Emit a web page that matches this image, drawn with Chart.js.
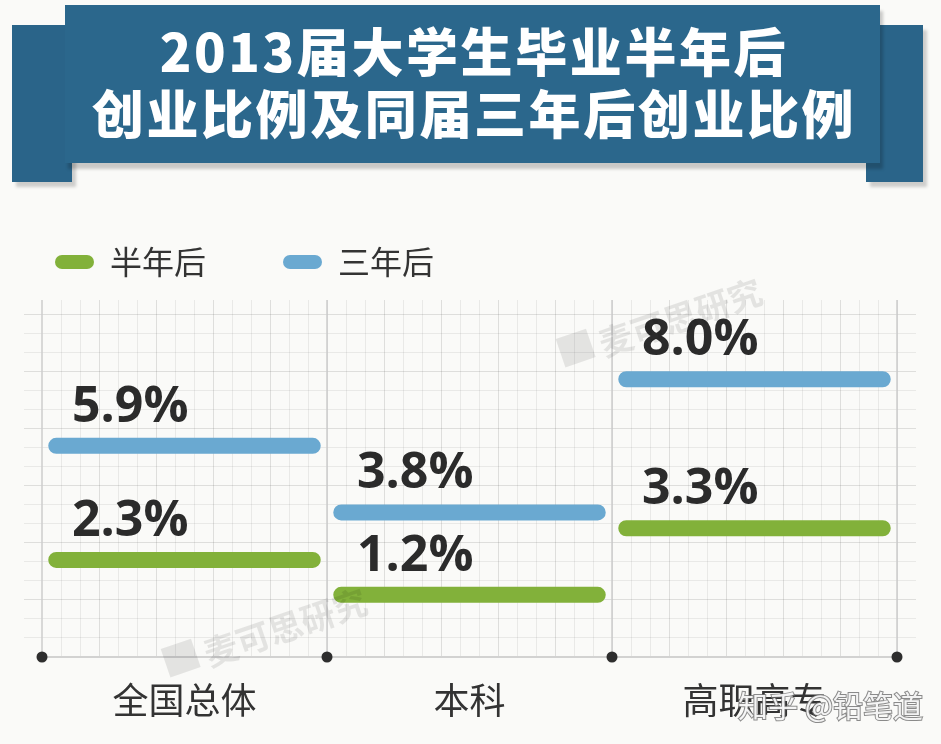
<!DOCTYPE html>
<html>
<head>
<meta charset="utf-8">
<script src="https://cdn.jsdelivr.net/npm/chart.js@4/dist/chart.umd.min.js"></script>
<style>
  html, body { margin: 0; padding: 0; background: #fafaf8; }
  #wrap { position: relative; width: 941px; height: 744px; overflow: hidden; }
  #chart { position: absolute; left: 0; top: 0; }
  .tab { position: absolute; background: #2a6489; box-shadow: 4px 5px 3px rgba(0,0,0,0.18); }
  .banner {
    position: absolute; left: 65px; top: 5px; width: 815px; height: 158px;
    background: #2b678c; box-shadow: 3px 6px 3px rgba(0,0,0,0.2);
    color: #fff; text-align: center;
    font-family: "Noto Sans CJK SC", sans-serif; font-weight: 900;
    font-size: 52px; line-height: 62px; letter-spacing: 2.6px;
    padding: 14px 0 0 3px; box-sizing: border-box;
  }
</style>
</head>
<body>
<div id="wrap">
  <div class="tab" style="left:12px;top:25px;width:60px;height:157px;"></div>
  <div class="tab" style="left:866px;top:25px;width:57px;height:157px;"></div>
  <div class="banner">2013届大学生毕业半年后<br>创业比例及同届三年后创业比例</div>
  <canvas id="chart" width="941" height="744"></canvas>
</div>
<script>
// values (percent)
const categories = ["全国总体", "本科", "高职高专"];
const halfYear = [2.3, 1.2, 3.3];
const threeYear = [5.9, 3.8, 8.0];
const seriesNames = ["半年后", "三年后"];
const seriesColors = ["#82b13a", "#6aa9d1"];

// each category gets one flat segment across its column
function segments(values) {
  const pts = [];
  values.forEach((v, i) => {
    pts.push({ x: i + 0.05, y: v });
    pts.push({ x: i + 0.95, y: v });
    pts.push({ x: i + 0.97, y: null });
  });
  return pts;
}

const paper = {
  id: "paper",
  beforeDatasetsDraw(chart) {
    const ctx = chart.ctx;
    const xs = chart.scales.x;
    const top = 300, bottom = xs.bottom;
    const x0 = xs.getPixelForValue(0), x3 = xs.getPixelForValue(3);
    ctx.save();
    // fine graph paper
    const step = 19;
    let k = 0;
    for (let x = x0 - step; x > 24; x -= step) {
      ctx.strokeStyle = "rgba(0,0,0,0.07)";
      ctx.beginPath(); ctx.moveTo(x + 0.5, top); ctx.lineTo(x + 0.5, bottom); ctx.stroke();
    }
    k = 0;
    for (let x = x0 + step; x < 916; x += step) {
      k++;
      ctx.strokeStyle = k % 3 === 0 ? "rgba(0,0,0,0.11)" : "rgba(0,0,0,0.065)";
      ctx.beginPath(); ctx.moveTo(x + 0.5, top); ctx.lineTo(x + 0.5, bottom); ctx.stroke();
    }
    k = 0;
    for (let y = bottom - step; y > top; y -= step) {
      k++;
      ctx.strokeStyle = k % 3 === 0 ? "rgba(0,0,0,0.11)" : "rgba(0,0,0,0.065)";
      ctx.beginPath(); ctx.moveTo(24, y + 0.5); ctx.lineTo(916, y + 0.5); ctx.stroke();
    }
    // column dividers
    ctx.strokeStyle = "#cdcdcd";
    ctx.lineWidth = 1.5;
    for (let i = 0; i <= categories.length; i++) {
      const x = xs.getPixelForValue(i);
      ctx.beginPath(); ctx.moveTo(x, top); ctx.lineTo(x, bottom); ctx.stroke();
    }
    // base line
    ctx.strokeStyle = "#c4c4c4";
    ctx.beginPath(); ctx.moveTo(x0, bottom + 1); ctx.lineTo(x3, bottom + 1); ctx.stroke();
    ctx.restore();
  },
  afterDatasetsDraw(chart) {
    const ctx = chart.ctx;
    const xs = chart.scales.x, ys = chart.scales.y;
    const bottom = xs.bottom;
    ctx.save();
    // axis dots
    ctx.fillStyle = "#2e2e2e";
    for (let i = 0; i <= categories.length; i++) {
      ctx.beginPath();
      ctx.arc(xs.getPixelForValue(i), bottom + 1, 5.5, 0, Math.PI * 2);
      ctx.fill();
    }
    // value labels
    ctx.font = "bold 50px 'Open Sans'";
    ctx.fillStyle = "#2b2b2b";
    ctx.textBaseline = "alphabetic";
    ctx.textAlign = "left";
    [halfYear, threeYear].forEach(vals => {
      vals.forEach((v, i) => {
        ctx.fillText(v.toFixed(1) + "%", xs.getPixelForValue(i) + 30, ys.getPixelForValue(v) - 24);
      });
    });
    // category labels
    ctx.font = "36px 'Noto Sans CJK SC'";
    ctx.fillStyle = "#333";
    ctx.textAlign = "center";
    ctx.textBaseline = "middle";
    categories.forEach((c, i) => ctx.fillText(c, xs.getPixelForValue(i + 0.5), 700));
    // legend
    const legendX = [55, 283];
    ctx.textAlign = "left";
    ctx.font = "32px 'Noto Sans CJK SC'";
    seriesNames.forEach((n, i) => {
      ctx.strokeStyle = seriesColors[i];
      ctx.lineWidth = 14;
      ctx.lineCap = "round";
      ctx.beginPath(); ctx.moveTo(legendX[i] + 7, 262); ctx.lineTo(legendX[i] + 32, 262); ctx.stroke();
      ctx.fillStyle = "#333";
      ctx.fillText(n, legendX[i] + 55, 262);
    });
    // faint watermarks
    ctx.fillStyle = "rgba(0,0,0,0.09)";
    ctx.font = "bold 34px 'Noto Sans CJK SC'";
    [[600, 345], [205, 655]].forEach(p => {
      ctx.save();
      ctx.translate(p[0], p[1]);
      ctx.rotate(-0.33);
      ctx.fillRect(-40, -20, 32, 30);
      ctx.fillText("麦可思研究", 0, 0);
      ctx.restore();
    });
    ctx.font = "30px 'Noto Sans CJK SC'";
    ctx.lineWidth = 2;
    ctx.strokeStyle = "rgba(110,110,110,0.8)";
    ctx.fillStyle = "rgba(255,255,255,0.9)";
    ctx.strokeText("知乎 @铅笔道", 738, 706);
    ctx.fillText("知乎 @铅笔道", 738, 706);
    ctx.restore();
  }
};

new Chart(document.getElementById("chart"), {
  type: "line",
  data: {
    datasets: [
      { label: seriesNames[0], data: segments(halfYear), borderColor: seriesColors[0] },
      { label: seriesNames[1], data: segments(threeYear), borderColor: seriesColors[1] }
    ]
  },
  options: {
    responsive: false,
    animation: false,
    devicePixelRatio: 1,
    spanGaps: false,
    layout: { padding: { left: 42, right: 44, top: 300, bottom: 88 } },
    elements: {
      line: { borderWidth: 16, borderCapStyle: "round", tension: 0 },
      point: { radius: 0, hoverRadius: 0 }
    },
    plugins: { legend: { display: false }, tooltip: { enabled: false } },
    scales: {
      x: { type: "linear", min: 0, max: 3, display: false },
      y: { min: -0.73, max: 10.5, display: false }
    }
  },
  plugins: [paper]
});
</script>
</body>
</html>
